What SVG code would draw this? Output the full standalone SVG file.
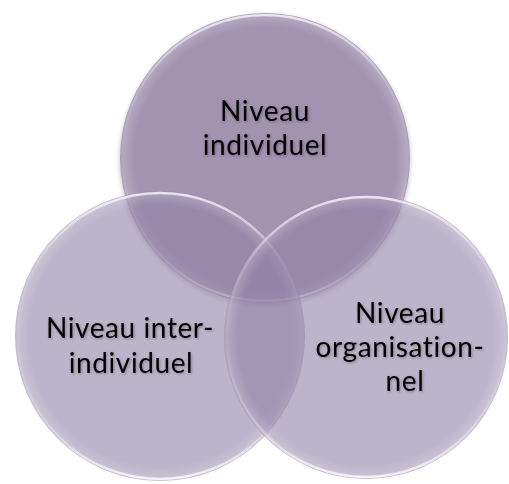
<svg xmlns="http://www.w3.org/2000/svg" width="509" height="484" viewBox="0 0 509 484">
  <defs>
    <radialGradient id="rim" cx="0.5" cy="0.5" r="0.5">
      <stop offset="0.9" stop-color="#ffffff" stop-opacity="0"/>
      <stop offset="0.975" stop-color="#ffffff" stop-opacity="0.18"/>
      <stop offset="1" stop-color="#ffffff" stop-opacity="0.05"/>
    </radialGradient>
    <linearGradient id="hl" x1="0" y1="0" x2="0" y2="1">
      <stop offset="0" stop-color="#ffffff" stop-opacity="0.75"/>
      <stop offset="0.25" stop-color="#ffffff" stop-opacity="0.2"/>
      <stop offset="0.5" stop-color="#ffffff" stop-opacity="0.05"/>
      <stop offset="0.85" stop-color="#ffffff" stop-opacity="0.35"/>
      <stop offset="1" stop-color="#ffffff" stop-opacity="0.8"/>
    </linearGradient>
    <filter id="sh" x="-10%" y="-10%" width="120%" height="125%">
      <feGaussianBlur in="SourceAlpha" stdDeviation="2.5"/>
      <feOffset dy="2"/>
      <feComponentTransfer><feFuncA type="linear" slope="0.25"/></feComponentTransfer>
      <feMerge><feMergeNode/><feMergeNode in="SourceGraphic"/></feMerge>
    </filter>
    <filter id="tsh" x="-10%" y="-20%" width="120%" height="140%">
      <feGaussianBlur in="SourceAlpha" stdDeviation="1.5"/>
      <feOffset dx="0.5" dy="1"/>
      <feComponentTransfer><feFuncA type="linear" slope="0.3"/></feComponentTransfer>
      <feMerge><feMergeNode/><feMergeNode in="SourceGraphic"/></feMerge>
    </filter>
  </defs>
  <style>
    .lbl { font-family: Lato, "Open Sans", sans-serif; font-size: 28px; letter-spacing: 0.6px; fill: #000000; text-anchor: middle; filter: url(#tsh); }
    .edge { fill: none; stroke: url(#hl); stroke-width: 2.5; }
    .rim { fill: url(#rim); }
    .side { fill: #8F82A7; fill-opacity: 0.6; }
  </style>
  <g id="node-individuel">
    <circle cx="265" cy="158" r="145" fill="#A293B0" filter="url(#sh)"/>
    <circle cx="265" cy="158" r="145" class="rim"/>
    <circle cx="265" cy="158" r="143" class="edge"/>
  </g>
  <g id="node-inter-individuel">
    <circle cx="160" cy="336" r="145" class="side"/>
    <circle cx="160" cy="336" r="145" class="rim"/>
    <circle cx="160" cy="336" r="143" class="edge"/>
  </g>
  <g id="node-organisationnel">
    <circle cx="366" cy="337" r="142" class="side"/>
    <circle cx="366" cy="337" r="142" class="rim"/>
    <circle cx="366" cy="337" r="140" class="edge"/>
  </g>
  <g id="connectors"></g>
  <g id="labels">
    <text class="lbl" x="265" y="121">Niveau</text>
    <text class="lbl" x="265" y="155">individuel</text>
    <text class="lbl" x="130" y="338">Niveau inter-</text>
    <text class="lbl" x="131" y="373">individuel</text>
    <text class="lbl" x="400" y="323">Niveau</text>
    <text class="lbl" x="400" y="357">organisation-</text>
    <text class="lbl" x="405" y="391">nel</text>
  </g>
</svg>
